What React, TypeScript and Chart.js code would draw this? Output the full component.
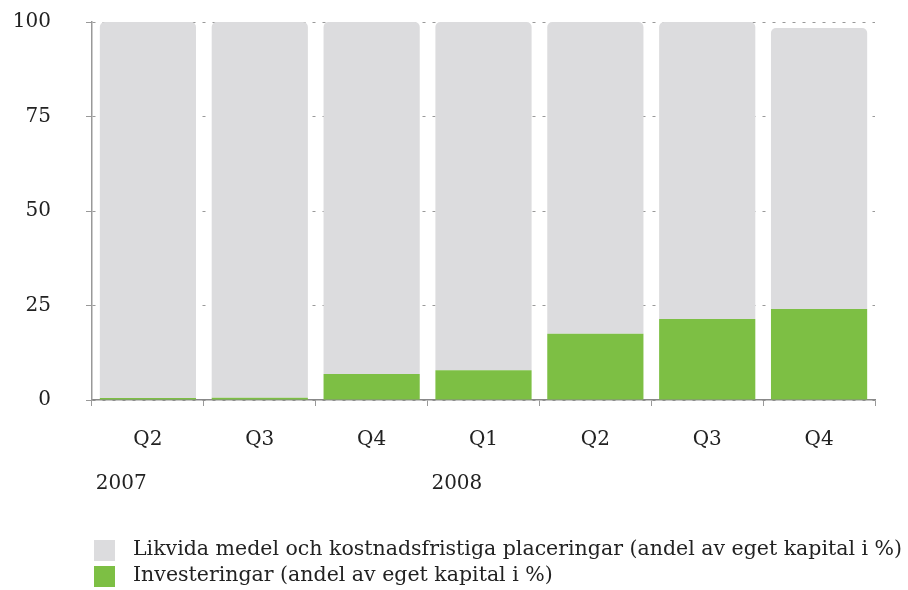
import React, { useEffect, useRef } from "react";
import { Chart, registerables } from "chart.js";

Chart.register(...registerables);

const categories = ["Q2", "Q3", "Q4", "Q1", "Q2", "Q3", "Q4"];
const years = ["2007", "", "", "2008", "", "", ""];
const investments = [0.5, 0.6, 6.9, 7.9, 17.5, 21.4, 24.1];
const liquid = [99.5, 99.4, 93.1, 92.1, 82.5, 78.6, 74.3];
const yTicks = [0, 25, 50, 75, 100];
const liquidLabel = "Likvida medel och kostnadsfristiga placeringar (andel av eget kapital i %)";
const investLabel = "Investeringar (andel av eget kapital i %)";

const GRAY = "#dcdcde";
const GREEN = "#7dbf44";
const SERIF = "'DejaVu Serif', serif";

const extrasPlugin = {
  id: "extras",
  afterDraw(chart: any) {
    const ctx = chart.ctx;
    const meta = chart.getDatasetMeta(0);
    ctx.save();
    ctx.fillStyle = "#222";
    ctx.font = `20px ${SERIF}`;
    ctx.textAlign = "left";
    ctx.textBaseline = "middle";
    years.forEach((y, i) => {
      if (!y) return;
      const el = meta.data[i];
      const left = el.x - el.width / 2 - 4;
      ctx.fillText(y, left, 484);
    });
    const items = [
      { label: liquidLabel, color: GRAY, y: 550 },
      { label: investLabel, color: GREEN, y: 576 },
    ];
    ctx.font = `20.5px ${SERIF}`;
    items.forEach((it) => {
      ctx.fillStyle = it.color;
      ctx.fillRect(94, it.y - 10, 21, 21);
      ctx.fillStyle = "#222";
      ctx.fillText(it.label, 133, it.y);
    });
    ctx.restore();
  },
};

export default function App() {
  const ref = useRef<HTMLCanvasElement>(null);
  useEffect(() => {
    document.body.style.margin = "0";
    const chart = new Chart(ref.current!, {
      type: "bar",
      data: {
        labels: categories,
        datasets: [
          {
            label: investLabel,
            data: investments,
            backgroundColor: GREEN,
            barPercentage: 0.86,
            categoryPercentage: 1,
          },
          {
            label: liquidLabel,
            data: liquid,
            backgroundColor: GRAY,
            borderRadius: { topLeft: 5, topRight: 5, bottomLeft: 0, bottomRight: 0 },
            borderSkipped: false,
            barPercentage: 0.86,
            categoryPercentage: 1,
          },
        ],
      },
      options: {
        responsive: false,
        animation: false,
        layout: { padding: { top: 22, right: 33, left: 0, bottom: 0 } },
        plugins: { legend: { display: false }, tooltip: { enabled: false } },
        scales: {
          x: {
            stacked: true,
            afterFit: (s: any) => {
              s.height = 190;
              s.paddingLeft = 0;
              s.paddingRight = 0;
            },
            grid: {
              display: true,
              drawOnChartArea: false,
              drawTicks: true,
              tickLength: 6,
              color: "#999",
            },
            border: { display: true, color: "#888", width: 1.5 },
            ticks: {
              color: "#222",
              font: { family: SERIF, size: 20 },
              padding: 22,
            },
          },
          y: {
            stacked: true,
            min: 0,
            max: 100,
            afterFit: (s: any) => {
              s.width = 92;
              s.paddingTop = 0;
              s.paddingBottom = 0;
            },
            afterBuildTicks: (s: any) => {
              s.ticks = yTicks.map((v) => ({ value: v }));
            },
            grid: {
              color: "#999",
              tickLength: 6,
              tickBorderDash: [],
            } as any,
            border: { display: true, color: "#999", width: 1.5, dash: [3, 7] },
            ticks: {
              color: "#222",
              font: { family: SERIF, size: 20 },
              padding: 35,
            },
          },
        },
      },
      plugins: [extrasPlugin],
    });
    return () => chart.destroy();
  }, []);
  return (
    <div style={{ width: 908, height: 590 }}>
      <canvas ref={ref} width={908} height={590} />
    </div>
  );
}
